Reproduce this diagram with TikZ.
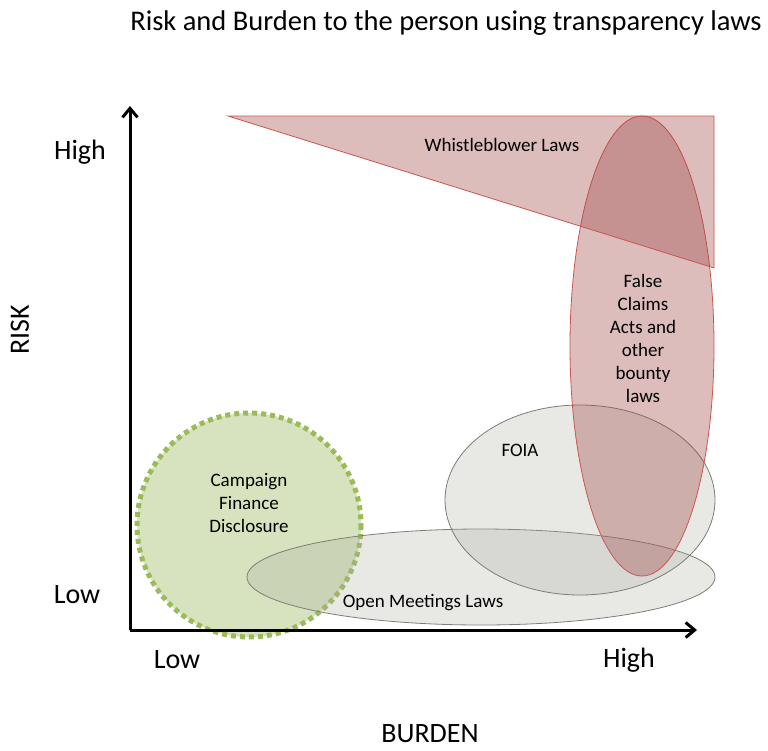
\documentclass[tikz,border=0pt]{standalone}
\usepackage{fontspec}
\setmainfont{Carlito}
\usetikzlibrary{arrows.meta}
\definecolor{redfill}{RGB}{158,71,69}
\definecolor{redline}{RGB}{205,85,80}
\definecolor{grayfill}{RGB}{170,170,160}
\definecolor{grayline}{RGB}{125,125,120}
\definecolor{greenfill}{RGB}{215,227,191}
\definecolor{greenline}{RGB}{155,187,89}

\begin{document}
\begin{tikzpicture}[x=1pt, y=-1pt,
  axis/.style={line width=3pt, -{Straight Barb[length=9pt, width=15pt, line width=3pt]}},
  redarea/.style={draw=redline, line width=0.8pt, fill=redfill, fill opacity=0.36},
  grayarea/.style={draw=grayline, line width=0.8pt, fill=grayfill, fill opacity=0.27},
  tick/.style={font=\fontsize{28}{30}\selectfont},
  inlabel/.style={font=\fontsize{19}{23}\selectfont, align=center}]
  \useasboundingbox (0,0) rectangle (768,750);
  % campaign finance circle
  \fill[greenfill] (249,525) circle (112);
  \draw[greenline, line width=5pt, dash pattern=on 5pt off 4pt] (249,525) circle (112);
  % grey areas
  \draw[grayarea] (481,577) ellipse [x radius=234, y radius=48];
  \draw[grayarea] (580,500) ellipse [x radius=135, y radius=95];
  % red areas
  \draw[redarea] (642,346) ellipse [x radius=72, y radius=230];
  \draw[redarea] (228,116) -- (714,116) -- (714,268) -- cycle;
  % axes
  \coordinate (origin) at (130,630);
  \coordinate (ytop) at (130,106);
  \coordinate (xend) at (697,630);
  \draw[axis] (origin) -- (ytop);
  \draw[axis] (origin) -- (xend);
  % texts
  \node[font=\fontsize{28.5}{30}\selectfont] (title) at (446,23) {Risk and Burden to the person using transparency laws};
  \node[tick] (yhigh) at (80,152) {High};
  \node[tick] (ylow) at (77,595) {Low};
  \node[tick] (xlow) at (177,660) {Low};
  \node[tick] (xhigh) at (629,660) {High};
  \node[tick, rotate=90] (risk) at (20,330) {RISK};
  \node[tick, inner sep=1pt] (burden) at (430,734) {BURDEN};
  \node[inlabel] (whistle) at (502,145) {Whistleblower Laws};
  \node[inlabel] (falseclaims) at (643,338) {False\\Claims\\Acts and\\other\\bounty\\laws};
  \node[inlabel] (foia) at (520,450) {FOIA};
  \node[inlabel] (campaign) at (249,503) {Campaign\\Finance\\Disclosure};
  \node[inlabel] (openmeet) at (423,603) {Open Meetings Laws};
\end{tikzpicture}
\end{document}
